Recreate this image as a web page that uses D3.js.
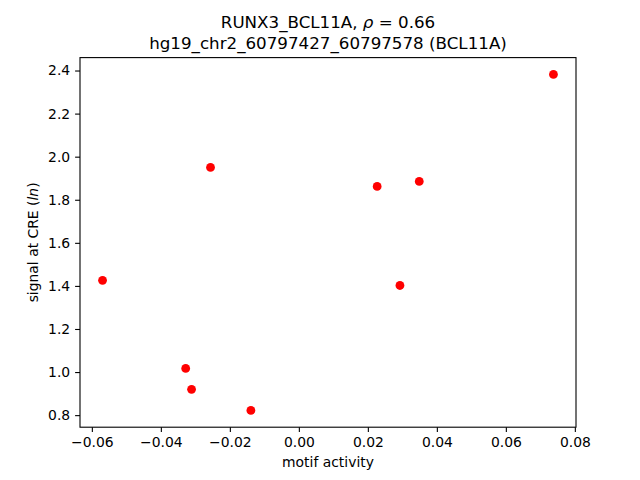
<!DOCTYPE html>
<html>
<head>
<meta charset="utf-8">
<script src="https://cdn.jsdelivr.net/npm/d3@7"></script>
<style>
  body { margin: 0; background: #fff; }
  svg { font-family: "DejaVu Sans", sans-serif; }
</style>
</head>
<body>
<svg width="640" height="480"></svg>
<script>
// values
var motifActivity = [0.0738, -0.0256, 0.0227, 0.0349, -0.0569, 0.0293, -0.0328, -0.0311, -0.0139];
var creSignal     = [2.382, 1.950, 1.862, 1.885, 1.426, 1.402, 1.017, 0.920, 0.822];
var xTickValues = [-0.06, -0.04, -0.02, 0.00, 0.02, 0.04, 0.06, 0.08];
var yTickValues = [0.8, 1.0, 1.2, 1.4, 1.6, 1.8, 2.0, 2.2, 2.4];

var svg = d3.select("svg"),
    margin = {left: 80, right: 64, top: 57.6, bottom: 52.8},
    width = 640 - margin.left - margin.right,
    height = 480 - margin.top - margin.bottom;

function padded(ext) {
  var m = (ext[1] - ext[0]) * 0.05;
  return [ext[0] - m, ext[1] + m];
}

var x = d3.scaleLinear().domain(padded(d3.extent(motifActivity))).range([0, width]);
var y = d3.scaleLinear().domain(padded(d3.extent(creSignal))).range([height, 0]);

var g = svg.append("g").attr("transform", "translate(" + margin.left + "," + margin.top + ")");

var points = motifActivity.map(function(v, i) { return {x: v, y: creSignal[i]}; });

g.append("g").selectAll("circle")
  .data(points)
  .enter().append("circle")
  .attr("cx", function(d) { return x(d.x); })
  .attr("cy", function(d) { return y(d.y); })
  .attr("r", 4.4)
  .attr("fill", "#ff0000");

var xAxis = g.append("g")
  .attr("transform", "translate(0," + height + ")")
  .call(d3.axisBottom(x).tickValues(xTickValues).tickFormat(d3.format(".2f")).tickSize(4.9).tickPadding(4.9));
var yAxis = g.append("g")
  .call(d3.axisLeft(y).tickValues(yTickValues).tickFormat(d3.format(".1f")).tickSize(4.9).tickPadding(4.9));

[xAxis, yAxis].forEach(function(a) {
  a.select(".domain").remove();
  a.selectAll("line").attr("stroke", "#000").attr("stroke-width", 1.1);
  a.selectAll("text").attr("font-size", "13.9px").attr("fill", "#000")
    .attr("font-family", "DejaVu Sans, sans-serif");
});

// frame
g.append("rect")
  .attr("width", width).attr("height", height)
  .attr("fill", "none").attr("stroke", "#000").attr("stroke-width", 1.1);

// axis labels
svg.append("text")
  .attr("x", margin.left + width / 2).attr("y", 467)
  .attr("text-anchor", "middle").attr("font-size", "13.9px")
  .text("motif activity");

var yl = svg.append("text")
  .attr("transform", "translate(38," + (margin.top + height / 2) + ") rotate(-90)")
  .attr("text-anchor", "middle").attr("font-size", "13.9px");
yl.append("tspan").text("signal at CRE (");
yl.append("tspan").attr("font-style", "italic").text("ln");
yl.append("tspan").text(")");

// title
var t1 = svg.append("text")
  .attr("x", margin.left + width / 2).attr("y", 28)
  .attr("text-anchor", "middle").attr("font-size", "16.7px");
t1.append("tspan").text("RUNX3_BCL11A, ");
t1.append("tspan").attr("font-style", "italic").text("ρ");
t1.append("tspan").text(" = 0.66");

svg.append("text")
  .attr("x", margin.left + width / 2).attr("y", 49)
  .attr("text-anchor", "middle").attr("font-size", "16.7px")
  .text("hg19_chr2_60797427_60797578 (BCL11A)");
</script>
</body>
</html>
